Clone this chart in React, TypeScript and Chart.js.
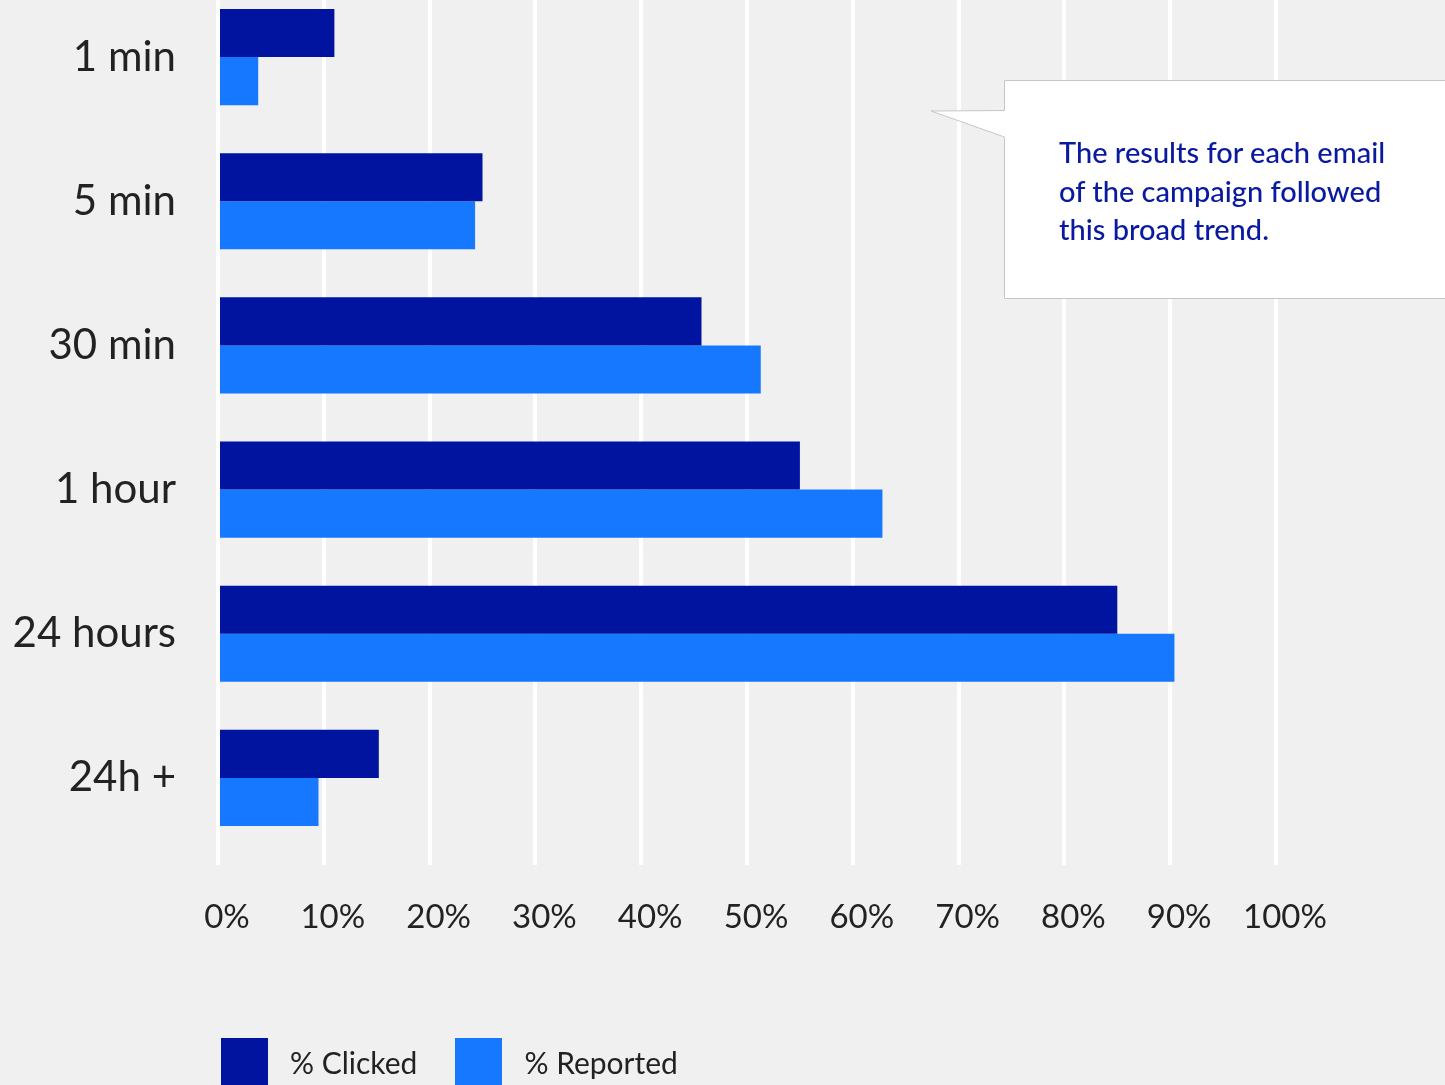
import React, { useEffect, useRef } from "react";
import { Chart, registerables } from "chart.js";

Chart.register(...registerables);

const categories = ["1 min", "5 min", "30 min", "1 hour", "24 hours", "24h +"];
const clickedValues = [11, 25, 45.7, 55, 85, 15.2];
const reportedValues = [3.8, 24.3, 51.3, 62.8, 90.4, 9.5];
const seriesNames = ["% Clicked", "% Reported"];
const seriesColors = ["#0014a0", "#1677ff"];
const xTickMax = 100;
const xTickStep = 10;
const calloutLines = [
  "The results for each email",
  "of the campaign followed",
  "this broad trend.",
];

const FONT = "Lato, 'Open Sans', sans-serif";
const TEXT = "#222222";

export default function App() {
  const canvasRef = useRef<HTMLCanvasElement | null>(null);

  useEffect(() => {
    if (!canvasRef.current) return;
    const chart = new Chart(canvasRef.current, {
      type: "bar",
      data: {
        labels: categories,
        datasets: [
          {
            label: seriesNames[0],
            data: clickedValues,
            backgroundColor: seriesColors[0],
            categoryPercentage: 0.667,
            barPercentage: 1.0,
          },
          {
            label: seriesNames[1],
            data: reportedValues,
            backgroundColor: seriesColors[1],
            categoryPercentage: 0.667,
            barPercentage: 1.0,
          },
        ],
      },
      options: {
        indexAxis: "y",
        animation: false,
        responsive: true,
        maintainAspectRatio: false,
        layout: { padding: { top: 25, right: 169, bottom: 0, left: 0 } },
        plugins: {
          legend: { display: false },
          tooltip: { enabled: false },
        },
        scales: {
          x: {
            type: "linear",
            min: 0,
            max: xTickMax,
            border: { display: false },
            grid: {
              color: "#ffffff",
              lineWidth: 4,
              drawTicks: true,
              tickLength: 15,
              tickColor: "#ffffff",
              tickWidth: 4,
            },
            ticks: {
              stepSize: xTickStep,
              padding: 33,
              labelOffset: 9,
              maxRotation: 0,
              color: TEXT,
              font: { family: FONT, size: 33 },
              callback: (v: any) => `${v}%`,
            },
            afterFit: (scale: any) => {
              scale.height = 100;
            },
          },
          y: {
            type: "category",
            border: { display: false },
            grid: { display: false, drawTicks: false, tickLength: 0 },
            ticks: {
              padding: 42,
              color: TEXT,
              font: { family: FONT, size: 42 },
            },
            afterFit: (scale: any) => {
              scale.width = 218;
              scale.paddingTop = 0;
              scale.paddingBottom = 0;
            },
          },
        },
      },
    });
    return () => chart.destroy();
  }, []);

  return (
    <div
      style={{
        position: "fixed",
        left: 0,
        top: 0,
        width: 1445,
        height: 1085,
        overflow: "hidden",
        background: "#f0f0f0",
      }}
    >
      <div style={{ position: "absolute", left: 0, top: -40, width: 1445, height: 990 }}>
        <canvas ref={canvasRef} />
      </div>

      <svg
        width={1445}
        height={1085}
        style={{ position: "absolute", left: 0, top: 0, pointerEvents: "none" }}
      >
        <path
          d="M1004.5,80.5 H1460 V298.5 H1004.5 V137 L931,111 L1004.5,110.5 Z"
          fill="#ffffff"
          stroke="#c6c6c6"
          strokeWidth={1}
        />
      </svg>
      <div
        style={{
          position: "absolute",
          left: 1059,
          top: 133,
          fontFamily: FONT,
          fontSize: 29,
          lineHeight: "38.5px",
          color: "#0a1aa0",
          whiteSpace: "nowrap",
          fontWeight: 500,
        }}
      >
        {calloutLines.map((l) => (
          <div key={l}>{l}</div>
        ))}
      </div>

      <div
        style={{
          position: "absolute",
          left: 221,
          top: 1038,
          display: "flex",
          fontFamily: FONT,
          fontSize: 30,
          color: TEXT,
        }}
      >
        {seriesNames.map((n, i) => (
          <div key={n} style={{ display: "flex", alignItems: "center", marginRight: 38 }}>
            <div style={{ width: 47, height: 48, background: seriesColors[i] }} />
            <span style={{ marginLeft: 22 }}>{n}</span>
          </div>
        ))}
      </div>
    </div>
  );
}
